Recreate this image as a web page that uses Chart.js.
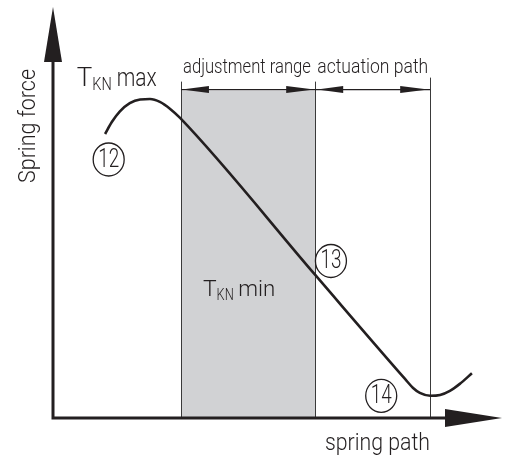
<!DOCTYPE html>
<html>
<head>
<meta charset="utf-8">
<script src="https://cdn.jsdelivr.net/npm/chart.js@4.4.0/dist/chart.umd.min.js"></script>
<style>
  body { margin: 0; background: #fff; }
  canvas { display: block; }
</style>
</head>
<body>
<canvas id="springChart" width="505" height="458"></canvas>
<script>
// curve (spring path 0..100, spring force 0..100)
const pathX  = [11.6, 13.1, 14.9, 17.1, 19.4, 21.6, 23.8, 26.1, 28.3, 58.4, 78.4, 80.2, 81.7, 84.0, 86.2, 88.4, 90.6, 93.3];
const forceY = [69.1, 72.0, 74.6, 76.6, 77.5, 77.6, 76.9, 75.2, 73.0, 34.8,  9.5,  7.3,  6.1,  5.4,  5.6,  6.6,  8.3, 10.9];

// range boundaries on the path axis: adjustment start, actuation start, actuation end
const rangeBounds = [28.5, 58.4, 84.0];
const rangeNames  = ['adjustment range', 'actuation path'];
const rangeLevel  = 79.9;   // force level of the dimension line

// circled reference numbers
const markerNames = ['12', '13', '14'];
const markerX     = [12.4, 61.9, 73.1];
const markerY     = [62.9, 38.2, 5.4];

const INK = '#231f20';
const FONT = 'Roboto, "Liberation Sans", sans-serif';

function font(size) { return '300 ' + size + 'px ' + FONT; }

// condensed-looking text: draw at given size, squeezed to a given width
function squeezed(ctx, text, x, y, size, width, align) {
    ctx.font = font(size);
    const w = ctx.measureText(text).width;
    const k = width / w;
    let left = x;
    if (align === 'center') left = x - width / 2;
    ctx.save();
    ctx.textAlign = 'left';
    ctx.translate(left, y);
    ctx.scale(k, 1);
    ctx.fillText(text, 0, 0);
    ctx.restore();
    return width;
}

// filled slim arrow head, tip at (x,y), pointing along dir (+1 / -1)
function hArrow(ctx, x, y, dir, len, half) {
    ctx.beginPath();
    ctx.moveTo(x, y);
    ctx.lineTo(x - dir * len, y - half);
    ctx.lineTo(x - dir * len, y + half);
    ctx.closePath();
    ctx.fill();
}

// "T" with subscript "KN" followed by a word
function drawTkn(ctx, x, y, word, size, wordWidth) {
    x += squeezed(ctx, 'T', x, y, size, size * 0.62);
    x += squeezed(ctx, 'KN', x, y + 4, Math.round(size * 0.72), size * 0.78);
    x += size * 0.2;
    squeezed(ctx, word, x, y, size, wordWidth);
}

const diagramPlugin = {
    id: 'diagram',
    beforeDatasetsDraw(chart) {
        const ctx = chart.ctx;
        const xs = chart.scales.x, ys = chart.scales.y;
        const a = chart.chartArea;
        const bx = rangeBounds.map(v => xs.getPixelForValue(v));
        const dimY = ys.getPixelForValue(rangeLevel);

        ctx.save();
        // shaded adjustment range
        ctx.fillStyle = '#d1d2d4';
        ctx.fillRect(bx[0], dimY + 1, bx[1] - bx[0], a.bottom - dimY - 1);

        // boundary lines
        ctx.strokeStyle = '#3a3a3a';
        ctx.lineWidth = 1;
        const tops = [dimY - 8, dimY - 8, dimY - 12];
        bx.forEach((x, i) => {
            ctx.beginPath();
            ctx.moveTo(Math.round(x) + 0.5, tops[i]);
            ctx.lineTo(Math.round(x) + 0.5, a.bottom);
            ctx.stroke();
        });

        // dimension line with arrows
        ctx.strokeStyle = INK;
        ctx.lineWidth = 1.2;
        ctx.beginPath();
        ctx.moveTo(bx[0], dimY);
        ctx.lineTo(bx[2], dimY);
        ctx.stroke();
        ctx.fillStyle = INK;
        hArrow(ctx, bx[0] + 1, dimY, -1, 27, 3.5);
        hArrow(ctx, bx[1] - 1, dimY, 1, 28, 3.5);
        hArrow(ctx, bx[1] + 2, dimY, -1, 26, 3.5);
        hArrow(ctx, bx[2] - 2, dimY, 1, 28, 3.5);

        // range names
        ctx.textBaseline = 'alphabetic';
        squeezed(ctx, rangeNames[0], bx[0] + 2, dimY - 17, 20, 128);
        squeezed(ctx, rangeNames[1], bx[1] + 2, dimY - 17, 20, 111);
        ctx.restore();
    },
    afterDatasetsDraw(chart) {
        const ctx = chart.ctx;
        const xs = chart.scales.x, ys = chart.scales.y;
        const a = chart.chartArea;
        ctx.save();
        ctx.fillStyle = INK;
        ctx.strokeStyle = INK;

        // axes with arrow heads
        ctx.lineWidth = 3;
        ctx.beginPath();
        ctx.moveTo(a.left, a.top + 40);
        ctx.lineTo(a.left, a.bottom);
        ctx.lineTo(a.right - 40, a.bottom);
        ctx.stroke();
        ctx.beginPath();
        ctx.moveTo(a.left, a.top);
        ctx.lineTo(a.left - 9, a.top + 55);
        ctx.lineTo(a.left + 9, a.top + 55);
        ctx.closePath();
        ctx.fill();
        ctx.beginPath();
        ctx.moveTo(a.right, a.bottom);
        ctx.lineTo(a.right - 57, a.bottom - 9);
        ctx.lineTo(a.right - 57, a.bottom + 9);
        ctx.closePath();
        ctx.fill();

        // axis titles
        ctx.textBaseline = 'alphabetic';
        squeezed(ctx, 'spring path', 325, 450, 23, 105);
        ctx.save();
        ctx.translate(35, 183);
        ctx.rotate(-Math.PI / 2);
        squeezed(ctx, 'Spring force', 0, 0, 23, 114);
        ctx.restore();

        // T_KN labels
        drawTkn(ctx, xs.getPixelForValue(5.3), ys.getPixelForValue(80.8), 'max', 25, 40);
        drawTkn(ctx, xs.getPixelForValue(33.4), ys.getPixelForValue(29.7), 'min', 22, 37);

        // circled numbers
        ctx.lineWidth = 1.3;
        markerNames.forEach((name, i) => {
            const x = xs.getPixelForValue(markerX[i]);
            const y = ys.getPixelForValue(markerY[i]);
            ctx.beginPath();
            ctx.ellipse(x, y, 15.5, 16.5, 0, 0, Math.PI * 2);
            ctx.stroke();
            ctx.textBaseline = 'middle';
            squeezed(ctx, name, x, y + 1, 25, 21, 'center');
        });
        ctx.restore();
    }
};

const ctx = document.getElementById('springChart').getContext('2d');
new Chart(ctx, {
    type: 'scatter',
    data: {
        datasets: [{
            label: 'Spring force',
            data: pathX.map((x, i) => ({ x: x, y: forceY[i] })),
            showLine: true,
            borderColor: INK,
            borderWidth: 2.6,
            pointRadius: 0,
            cubicInterpolationMode: 'monotone'
        }]
    },
    options: {
        responsive: false,
        animation: false,
        layout: { padding: { left: 53, right: 3, top: 7, bottom: 40 } },
        plugins: { legend: { display: false }, tooltip: { enabled: false } },
        scales: {
            x: { type: 'linear', min: 0, max: 100, display: false },
            y: { type: 'linear', min: 0, max: 100, display: false }
        }
    },
    plugins: [diagramPlugin]
});
</script>
</body>
</html>
